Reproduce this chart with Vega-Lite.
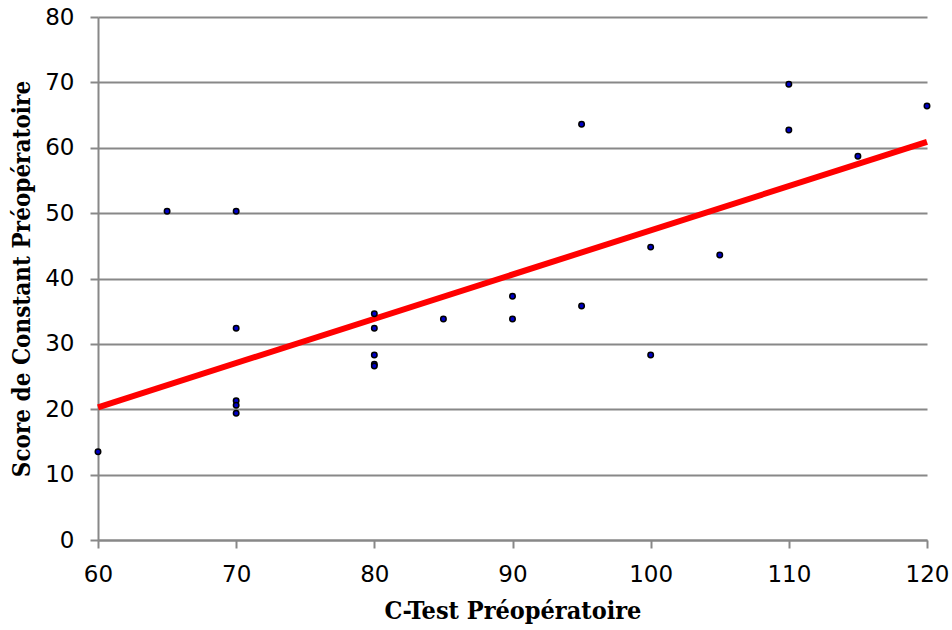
{
  "$schema": "https://vega.github.io/schema/vega-lite/v6.json",
  "width": 829,
  "height": 523,
  "autosize": "none",
  "padding": {"left": 98, "top": 17, "right": 25, "bottom": 90},
  "background": "white",
  "config": {"view": {"stroke": null}},
  "datasets": {
    "points": [
      {"ctest": 60, "score": 13.5},
      {"ctest": 65, "score": 50.3},
      {"ctest": 70, "score": 50.3},
      {"ctest": 70, "score": 32.4},
      {"ctest": 70, "score": 21.3},
      {"ctest": 70, "score": 20.6},
      {"ctest": 70, "score": 19.4},
      {"ctest": 80, "score": 34.6},
      {"ctest": 80, "score": 32.4},
      {"ctest": 80, "score": 28.3},
      {"ctest": 80, "score": 26.9},
      {"ctest": 80, "score": 26.6},
      {"ctest": 85, "score": 33.8},
      {"ctest": 90, "score": 37.3},
      {"ctest": 90, "score": 33.8},
      {"ctest": 95, "score": 63.6},
      {"ctest": 95, "score": 35.8},
      {"ctest": 100, "score": 44.8},
      {"ctest": 100, "score": 28.3},
      {"ctest": 105, "score": 43.6},
      {"ctest": 110, "score": 69.7},
      {"ctest": 110, "score": 62.7},
      {"ctest": 115, "score": 58.7},
      {"ctest": 120, "score": 66.4}
    ],
    "trend": [
      {"ctest": 60, "score": 20.3},
      {"ctest": 120, "score": 60.9}
    ]
  },
  "layer": [
    {
      "data": {"name": "trend"},
      "mark": {"type": "line", "color": "#ff0000", "strokeWidth": 6, "strokeCap": "butt"},
      "encoding": {
        "x": {
          "field": "ctest", "type": "quantitative",
          "scale": {"domain": [60, 120], "nice": false, "zero": false},
          "axis": {
            "title": "C-Test Préopératoire",
            "titleFont": "DejaVu Serif Condensed", "titleFontSize": 25, "titleFontWeight": "bold", "titleColor": "#000000", "titlePadding": 12,
            "labelFont": "DejaVu Sans", "labelFontSize": 23, "labelColor": "#000000", "labelPadding": 15, "labelFlush": false,
            "values": [60, 70, 80, 90, 100, 110, 120],
            "grid": false, "domainColor": "#888888", "domainWidth": 2,
            "tickColor": "#888888", "tickWidth": 2, "tickSize": 8
          }
        },
        "y": {
          "field": "score", "type": "quantitative",
          "scale": {"domain": [0, 80], "nice": false},
          "axis": {
            "title": "Score de Constant Préopératoire",
            "titleFont": "DejaVu Serif Condensed", "titleFontSize": 24, "titleFontWeight": "bold", "titleColor": "#000000", "titlePadding": 10,
            "labelFont": "DejaVu Sans", "labelFontSize": 23, "labelColor": "#000000", "labelPadding": 16, "labelFlush": false,
            "values": [0, 10, 20, 30, 40, 50, 60, 70, 80],
            "grid": true, "gridColor": "#888888", "gridWidth": 2,
            "domainColor": "#888888", "domainWidth": 2,
            "tickColor": "#888888", "tickWidth": 2, "tickSize": 8
          }
        }
      }
    },
    {
      "data": {"name": "points"},
      "mark": {"type": "point", "filled": true, "fill": "#0000c8", "stroke": "#000000", "strokeWidth": 1.5, "size": 30, "opacity": 1},
      "encoding": {
        "x": {"field": "ctest", "type": "quantitative"},
        "y": {"field": "score", "type": "quantitative"}
      }
    }
  ]
}
